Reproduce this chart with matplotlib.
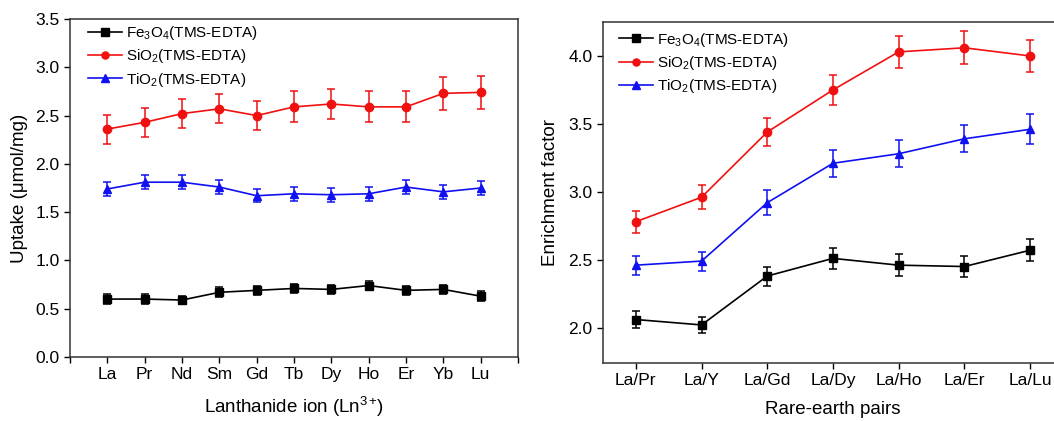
import numpy as np
import matplotlib
matplotlib.use('Agg')
from matplotlib import pyplot as plt

plt.rcParams['font.family'] = ['Liberation Sans', 'DejaVu Sans']
plt.rcParams['mathtext.fontset'] = 'custom'
plt.rcParams['mathtext.rm'] = 'Liberation Sans'
plt.rcParams['mathtext.it'] = 'Liberation Sans'
plt.rcParams['mathtext.default'] = 'regular'

# Left panel: uptake per lanthanide ion
ions = ['La', 'Pr', 'Nd', 'Sm', 'Gd', 'Tb', 'Dy', 'Ho', 'Er', 'Yb', 'Lu']
fe_uptake = [0.60, 0.60, 0.59, 0.67, 0.69, 0.71, 0.70, 0.74, 0.69, 0.70, 0.63]
fe_uptake_err = [0.05, 0.05, 0.04, 0.05, 0.05, 0.05, 0.05, 0.05, 0.05, 0.05, 0.05]
si_uptake = [2.36, 2.43, 2.52, 2.57, 2.50, 2.59, 2.62, 2.59, 2.59, 2.73, 2.74]
si_uptake_err = [0.15, 0.15, 0.15, 0.15, 0.15, 0.16, 0.16, 0.16, 0.16, 0.17, 0.17]
ti_uptake = [1.74, 1.81, 1.81, 1.76, 1.67, 1.69, 1.68, 1.69, 1.76, 1.71, 1.75]
ti_uptake_err = [0.07, 0.07, 0.07, 0.07, 0.07, 0.07, 0.07, 0.07, 0.07, 0.07, 0.07]

# Right panel: enrichment factor per rare-earth pair
pairs = ['La/Pr', 'La/Y', 'La/Gd', 'La/Dy', 'La/Ho', 'La/Er', 'La/Lu']
fe_ef = [2.06, 2.02, 2.38, 2.51, 2.46, 2.45, 2.57]
fe_ef_err = [0.065, 0.06, 0.07, 0.08, 0.08, 0.075, 0.08]
si_ef = [2.78, 2.96, 3.44, 3.75, 4.03, 4.06, 4.00]
si_ef_err = [0.08, 0.09, 0.10, 0.11, 0.12, 0.12, 0.12]
ti_ef = [2.46, 2.49, 2.92, 3.21, 3.28, 3.39, 3.46]
ti_ef_err = [0.07, 0.07, 0.09, 0.10, 0.10, 0.10, 0.11]

labels = ['Fe$_3$O$_4$(TMS-EDTA)', 'SiO$_2$(TMS-EDTA)', 'TiO$_2$(TMS-EDTA)']
colors = ['black', '#f01010', '#1010f0']
markers = ['s', 'o', '^']

fig = plt.figure(figsize=(10.54, 4.21), dpi=100)
ax1 = fig.add_axes([0.0664, 0.152, 0.4251, 0.8029])
ax2 = fig.add_axes([0.5721, 0.1378, 0.4364, 0.8100])


def draw(ax, names, series, leg_anchor):
    x = np.arange(len(names))
    handles = []
    for (y, e), c, m in zip(series, colors, markers):
        cont = ax.errorbar(x, y, yerr=e, color=c, marker=m, markersize=6, lw=1.2,
                           elinewidth=1.1, capsize=3, capthick=1.1)
        handles.append(cont[0])
    ax.legend(handles, labels, loc='upper left', bbox_to_anchor=leg_anchor,
              frameon=False, fontsize=11, handlelength=2.2, handletextpad=0.3,
              labelspacing=0.35, borderaxespad=0.0, borderpad=0.0, markerscale=0.85)
    ax.tick_params(direction='out', labelsize=12.5, length=4, width=1)
    for s in ax.spines.values():
        s.set_linewidth(1.1)
        s.set_color('#333333')


draw(ax1, ions, [(fe_uptake, fe_uptake_err), (si_uptake, si_uptake_err),
                 (ti_uptake, ti_uptake_err)], (0.04, 0.985))
ax1.set_xlim(-1, 11)
ax1.set_ylim(0, 3.5)
ax1.set_xticks(np.arange(-1, 12))
ax1.set_xticklabels([''] + ions + [''])
ax1.set_yticks(np.arange(0, 3.51, 0.5))
ax1.set_xlabel(r'Lanthanide ion (Ln$^{3+}\!$)', fontsize=13.5, labelpad=9)
ax1.set_ylabel('Uptake (μmol/mg)', fontsize=13.5, labelpad=5)

draw(ax2, pairs, [(fe_ef, fe_ef_err), (si_ef, si_ef_err), (ti_ef, ti_ef_err)],
     (0.035, 0.975))
ax2.set_xlim(-0.5, 6.5)
ax2.set_ylim(1.74, 4.25)
ax2.set_xticks(np.arange(len(pairs)))
ax2.set_xticklabels(pairs)
ax2.set_yticks([2.0, 2.5, 3.0, 3.5, 4.0])
ax2.set_xlabel('Rare-earth pairs', fontsize=13.5, labelpad=9)
ax2.set_ylabel('Enrichment factor', fontsize=13.5, labelpad=7)

fig.savefig('out.png', dpi=100)
